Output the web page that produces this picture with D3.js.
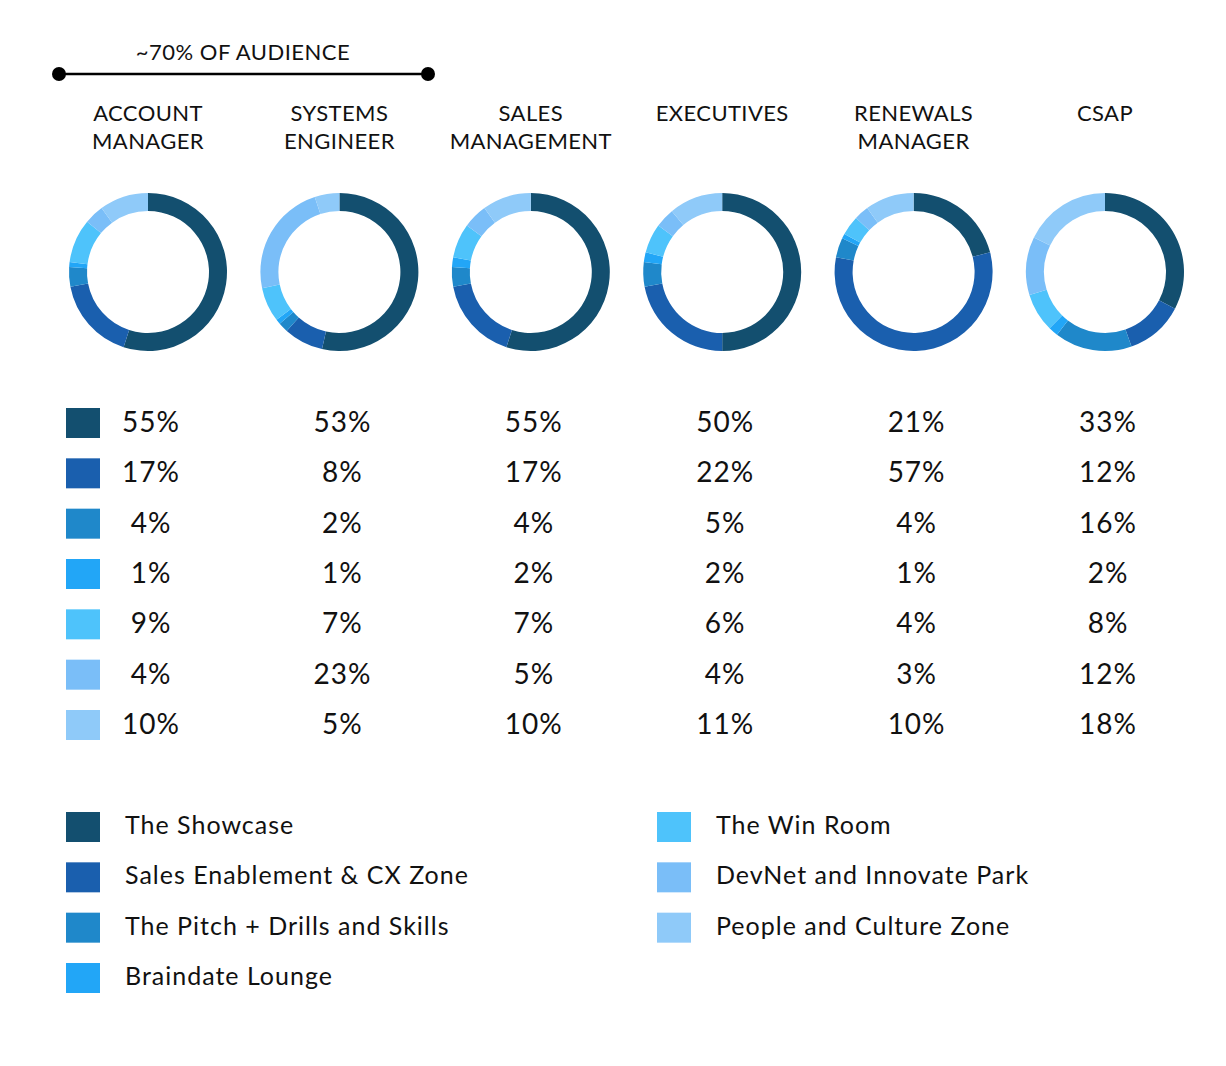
<!DOCTYPE html>
<html><head><meta charset="utf-8">
<script src="https://cdn.jsdelivr.net/npm/d3@7"></script>
<style>body{margin:0;background:#fff}svg{display:block}</style>
</head><body>
<svg id="c" width="1226" height="1066"></svg>
<script>
const roles = [["ACCOUNT","MANAGER"],["SYSTEMS","ENGINEER"],["SALES","MANAGEMENT"],["EXECUTIVES"],["RENEWALS","MANAGER"],["CSAP"]];
const zones = ["The Showcase","Sales Enablement & CX Zone","The Pitch + Drills and Skills","Braindate Lounge","The Win Room","DevNet and Innovate Park","People and Culture Zone"];
const colors = ["#134f6f","#1a5fae","#1f88ca","#22a6f7","#4ec3fb","#7abef8","#8fcaf9"];
const accountManager = [55,17,4,1,9,4,10];
const systemsEngineer = [53,8,2,1,7,23,5];
const salesManagement = [55,17,4,2,7,5,10];
const executives = [50,22,5,2,6,4,11];
const renewalsManager = [21,57,4,1,4,3,10];
const csap = [33,12,16,2,8,12,18];
const series = [accountManager,systemsEngineer,salesManagement,executives,renewalsManager,csap];
const annotation = "~70% OF AUDIENCE";

const svg = d3.select("#c");
const font = "Lato, 'Noto Sans', sans-serif";
const x = d3.scalePoint().domain(d3.range(roles.length)).range([148,1105]);
const rowY = d3.scalePoint().domain(d3.range(zones.length)).range([422,724]);
const color = d3.scaleOrdinal().domain(zones).range(colors);

// annotation
const ag = svg.append("g");
ag.append("line").attr("x1",59).attr("x2",428).attr("y1",74).attr("y2",74).attr("stroke","#000").attr("stroke-width",2.5);
ag.selectAll("circle").data([59,428]).join("circle").attr("cx",d=>d).attr("cy",74).attr("r",7).attr("fill","#000");
ag.append("text").attr("x",243).attr("y",60).attr("text-anchor","middle").attr("font-family",font)
  .attr("font-size",22).attr("letter-spacing",0.5).attr("fill","#111").text(annotation);

// headers
roles.forEach((r,i)=>{
  const t = svg.append("text").attr("text-anchor","middle").attr("font-family",font)
    .attr("font-size",22).attr("letter-spacing",0.4).attr("fill","#111");
  r.forEach((line,j)=>t.append("tspan").attr("x",x(i)).attr("y",121+j*28).text(line));
});

// donuts
const pie = d3.pie().sort(null).value(d=>d);
const arc = d3.arc().innerRadius(61).outerRadius(79);
series.forEach((s,i)=>{
  const g = svg.append("g").attr("transform",`translate(${x(i)},272)`);
  g.selectAll("path").data(pie(s)).join("path").attr("d",arc).attr("fill",(d,k)=>colors[k]);
});

// table
svg.selectAll("rect.sw").data(zones).join("rect").attr("class","sw")
  .attr("x",66).attr("y",(d,k)=>rowY(k)-14).attr("width",34).attr("height",30).attr("fill",d=>color(d));
series.forEach((s,i)=>{
  svg.append("g").selectAll("text").data(s).join("text")
    .attr("x",x(i)+3).attr("y",(d,k)=>rowY(k)+10).attr("text-anchor","middle")
    .attr("font-family",font).attr("font-size",28).attr("letter-spacing",1).attr("fill","#111").text(d=>d+"%");
});

// legend
const legY = d3.scalePoint().domain(d3.range(4)).range([826,977]);
const lg = svg.append("g").selectAll("g").data(zones).join("g")
  .attr("transform",(d,k)=>`translate(${k<4?66:657},${legY(k<4?k:k-4)})`);
lg.append("rect").attr("y",-14).attr("width",34).attr("height",30).attr("fill",d=>color(d));
lg.append("text").attr("x",59).attr("y",8).attr("font-family",font).attr("font-size",25)
  .attr("letter-spacing",1.0).attr("fill","#111").text(d=>d);
</script>
</body></html>
